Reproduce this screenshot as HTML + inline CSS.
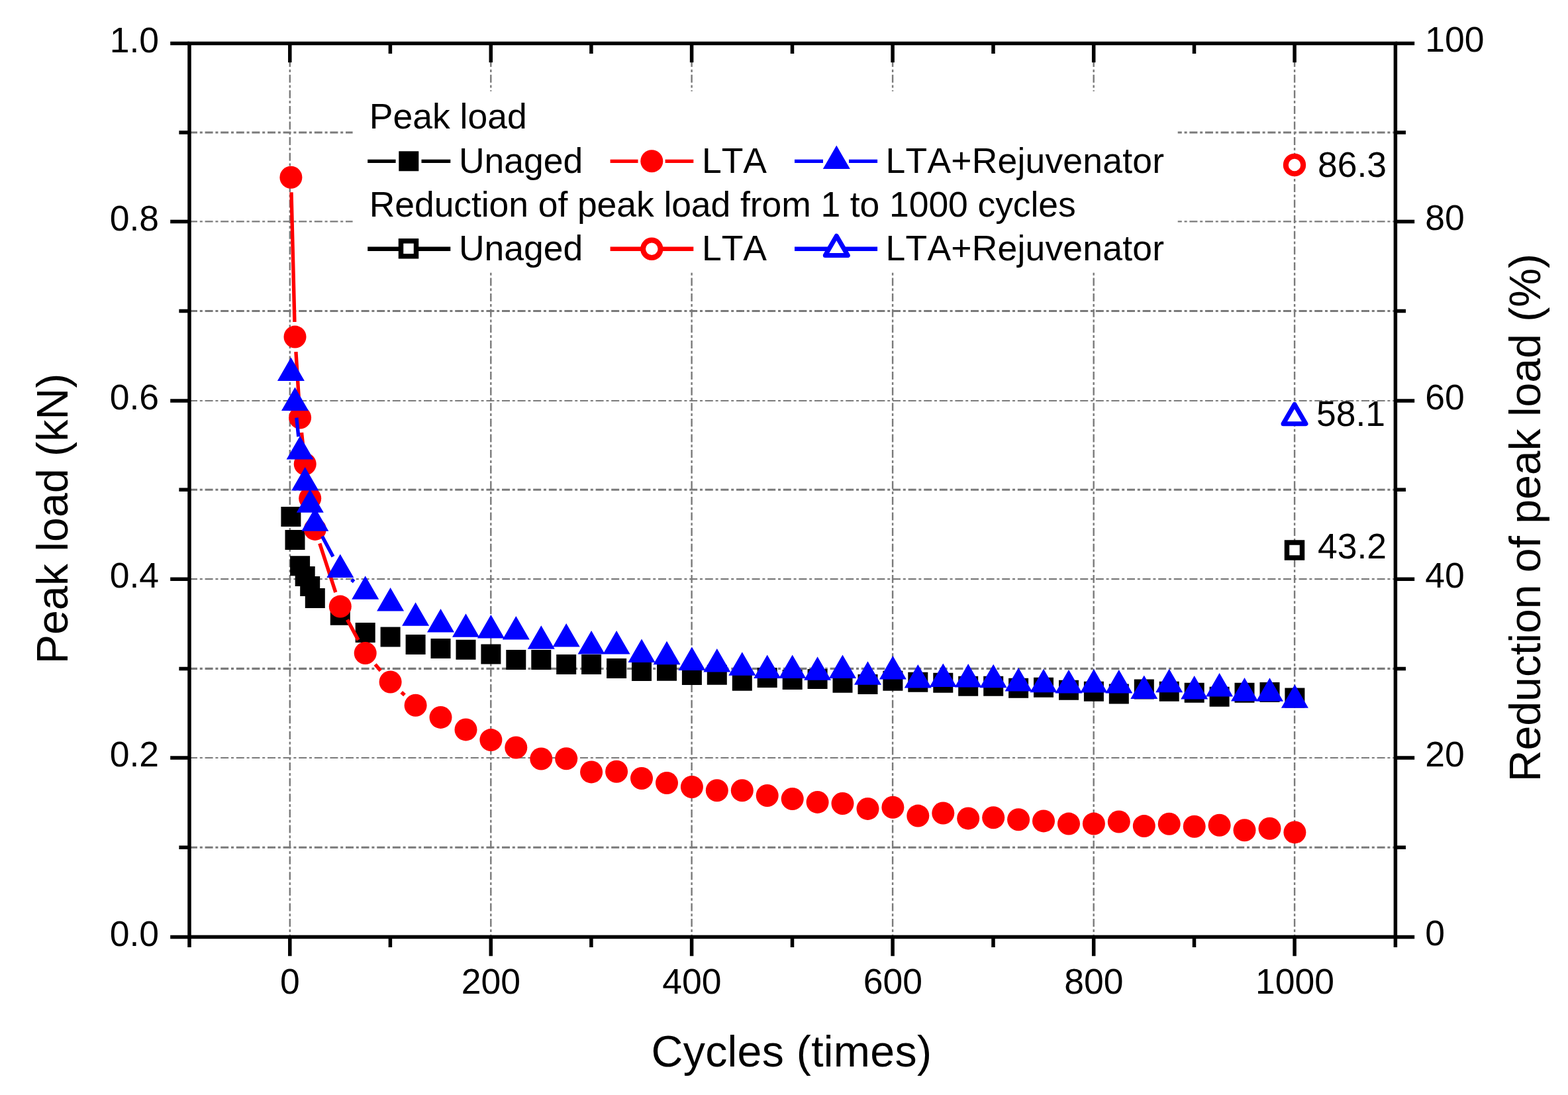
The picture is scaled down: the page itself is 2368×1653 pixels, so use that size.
<!DOCTYPE html>
<html lang="en">
<head>
<meta charset="utf-8">
<title>Peak load vs cycles</title>
<style>html,body{margin:0;padding:0;background:#fff;}body{width:2368px;height:1653px;overflow:hidden;}svg{display:block;}text{font-kerning:none;white-space:pre;}</style>
</head>
<body>
<svg width="2368" height="1653" viewBox="0 0 2368 1653" font-family='"Liberation Sans", Arial, Helvetica, sans-serif' font-size="53.5" fill="#000">
<rect x="0" y="0" width="2368" height="1653" fill="#fff"/>
<g stroke="#7a7a7a" fill="none" stroke-dasharray="12 3.8 4 3.8">
<line x1="286.0" y1="1279.2" x2="2107.4" y2="1279.2" stroke-width="3.1"/>
<line x1="286.0" y1="1144.0" x2="2107.4" y2="1144.0" stroke-width="2.2"/>
<line x1="286.0" y1="1009.4" x2="2107.4" y2="1009.4" stroke-width="3.1"/>
<line x1="286.0" y1="874.2" x2="2107.4" y2="874.2" stroke-width="2.2"/>
<line x1="286.0" y1="739.2" x2="2107.4" y2="739.2" stroke-width="3.1"/>
<line x1="286.0" y1="605.0" x2="2107.4" y2="605.0" stroke-width="2.2"/>
<line x1="286.0" y1="469.5" x2="2107.4" y2="469.5" stroke-width="3.1"/>
<line x1="286.0" y1="334.4" x2="2107.4" y2="334.4" stroke-width="2.2"/>
<line x1="286.0" y1="200.0" x2="2107.4" y2="200.0" stroke-width="3.1"/>
<line x1="437.8" y1="65.5" x2="437.8" y2="1414.4" stroke-width="2.4"/>
<line x1="741.3" y1="65.5" x2="741.3" y2="1414.4" stroke-width="2.4"/>
<line x1="1044.6" y1="65.5" x2="1044.6" y2="1414.4" stroke-width="2.4"/>
<line x1="1348.1" y1="65.5" x2="1348.1" y2="1414.4" stroke-width="2.4"/>
<line x1="1651.7" y1="65.5" x2="1651.7" y2="1414.4" stroke-width="2.4"/>
<line x1="1955.1" y1="65.5" x2="1955.1" y2="1414.4" stroke-width="2.4"/>
</g>
<g fill="#000">
<path d="M424.4 765.0h30.0v30.0h-30.0zM430.5 800.0h30.0v30.0h-30.0zM438.1 839.2h30.0v30.0h-30.0zM445.7 855.0h30.0v30.0h-30.0zM453.2 870.1h30.0v30.0h-30.0zM460.8 888.0h30.0v30.0h-30.0zM498.8 913.8h30.0v30.0h-30.0zM536.7 940.1h30.0v30.0h-30.0zM574.6 946.4h30.0v30.0h-30.0zM612.6 958.0h30.0v30.0h-30.0zM650.5 964.0h30.0v30.0h-30.0zM688.5 965.8h30.0v30.0h-30.0zM726.4 972.6h30.0v30.0h-30.0zM764.3 981.1h30.0v30.0h-30.0zM802.3 981.1h30.0v30.0h-30.0zM840.2 988.1h30.0v30.0h-30.0zM878.1 988.1h30.0v30.0h-30.0zM916.1 994.1h30.0v30.0h-30.0zM954.0 997.9h30.0v30.0h-30.0zM992.0 997.8h30.0v30.0h-30.0zM1029.9 1003.9h30.0v30.0h-30.0zM1067.8 1003.7h30.0v30.0h-30.0zM1105.8 1012.7h30.0v30.0h-30.0zM1143.7 1007.9h30.0v30.0h-30.0zM1181.7 1011.0h30.0v30.0h-30.0zM1219.6 1010.0h30.0v30.0h-30.0zM1257.5 1015.8h30.0v30.0h-30.0zM1295.5 1017.9h30.0v30.0h-30.0zM1333.4 1012.7h30.0v30.0h-30.0zM1371.3 1014.8h30.0v30.0h-30.0zM1409.3 1015.8h30.0v30.0h-30.0zM1447.2 1020.7h30.0v30.0h-30.0zM1485.2 1020.7h30.0v30.0h-30.0zM1523.1 1023.8h30.0v30.0h-30.0zM1561.0 1022.8h30.0v30.0h-30.0zM1599.0 1026.7h30.0v30.0h-30.0zM1636.9 1028.8h30.0v30.0h-30.0zM1674.8 1032.6h30.0v30.0h-30.0zM1712.8 1025.6h30.0v30.0h-30.0zM1750.7 1028.7h30.0v30.0h-30.0zM1788.7 1030.8h30.0v30.0h-30.0zM1826.6 1036.8h30.0v30.0h-30.0zM1864.5 1030.8h30.0v30.0h-30.0zM1902.5 1030.0h30.0v30.0h-30.0zM1940.4 1038.6h30.0v30.0h-30.0z"/>
</g>
<g fill="#ff0000">
<path d="M440.0 290.3L444.9 486.0M446.9 531.2L451.7 607.9M455.5 653.0L458.2 678.1M463.9 723.0L465.0 729.9M482.8 820.4L506.8 894.1M524.5 935.5L541.0 966.1M566.6 1003.0L574.8 1012.5M606.2 1044.9L611.0 1049.3" stroke="#ff0000" stroke-width="5.4" fill="none"/>
<circle cx="439.4" cy="267.7" r="17.0"/>
<circle cx="445.5" cy="508.6" r="17.0"/>
<circle cx="453.1" cy="630.5" r="17.0"/>
<circle cx="460.7" cy="700.6" r="17.0"/>
<circle cx="468.2" cy="752.3" r="17.0"/>
<circle cx="475.8" cy="798.9" r="17.0"/>
<circle cx="513.8" cy="915.6" r="17.0"/>
<circle cx="551.7" cy="986.0" r="17.0"/>
<circle cx="589.6" cy="1029.5" r="17.0"/>
<circle cx="627.6" cy="1064.7" r="17.0"/>
<circle cx="665.5" cy="1082.9" r="17.0"/>
<circle cx="703.5" cy="1101.4" r="17.0"/>
<circle cx="741.4" cy="1117.1" r="17.0"/>
<circle cx="779.3" cy="1128.5" r="17.0"/>
<circle cx="817.3" cy="1145.5" r="17.0"/>
<circle cx="855.2" cy="1145.2" r="17.0"/>
<circle cx="893.1" cy="1165.4" r="17.0"/>
<circle cx="931.1" cy="1164.8" r="17.0"/>
<circle cx="969.0" cy="1175.0" r="17.0"/>
<circle cx="1007.0" cy="1182.0" r="17.0"/>
<circle cx="1044.9" cy="1188.0" r="17.0"/>
<circle cx="1082.8" cy="1193.3" r="17.0"/>
<circle cx="1120.8" cy="1193.3" r="17.0"/>
<circle cx="1158.7" cy="1201.0" r="17.0"/>
<circle cx="1196.7" cy="1206.0" r="17.0"/>
<circle cx="1234.6" cy="1210.9" r="17.0"/>
<circle cx="1272.5" cy="1213.0" r="17.0"/>
<circle cx="1310.5" cy="1220.9" r="17.0"/>
<circle cx="1348.4" cy="1218.8" r="17.0"/>
<circle cx="1386.3" cy="1231.6" r="17.0"/>
<circle cx="1424.3" cy="1227.5" r="17.0"/>
<circle cx="1462.2" cy="1235.4" r="17.0"/>
<circle cx="1500.2" cy="1234.2" r="17.0"/>
<circle cx="1538.1" cy="1237.3" r="17.0"/>
<circle cx="1576.0" cy="1239.4" r="17.0"/>
<circle cx="1614.0" cy="1243.6" r="17.0"/>
<circle cx="1651.9" cy="1243.6" r="17.0"/>
<circle cx="1689.8" cy="1240.5" r="17.0"/>
<circle cx="1727.8" cy="1247.1" r="17.0"/>
<circle cx="1765.7" cy="1243.7" r="17.0"/>
<circle cx="1803.7" cy="1247.8" r="17.0"/>
<circle cx="1841.6" cy="1245.8" r="17.0"/>
<circle cx="1879.5" cy="1253.2" r="17.0"/>
<circle cx="1917.5" cy="1250.8" r="17.0"/>
<circle cx="1955.4" cy="1256.4" r="17.0"/>
</g>
<g fill="#0000ff">
<path d="M447.8 630.6L450.8 659.1M486.6 809.8L503.0 840.2M530.9 874.9L534.6 878.1" stroke="#0000ff" stroke-width="5.4" fill="none"/>
<path d="M439.4 539.5L459.9 575.0L418.9 575.0ZM445.5 584.4L466.0 619.9L425.0 619.9ZM453.1 657.9L473.6 693.4L432.6 693.4ZM460.7 705.0L481.2 740.5L440.2 740.5ZM468.2 738.3L488.8 773.8L447.8 773.8ZM475.8 766.2L496.3 801.7L455.3 801.7ZM513.8 836.4L534.3 871.9L493.3 871.9ZM551.7 869.2L572.2 904.7L531.2 904.7ZM589.6 887.1L610.1 922.6L569.1 922.6ZM627.6 909.3L648.1 944.8L607.1 944.8ZM665.5 919.1L686.0 954.6L645.0 954.6ZM703.5 926.3L724.0 961.8L683.0 961.8ZM741.4 928.0L761.9 963.5L720.9 963.5ZM779.3 930.1L799.8 965.6L758.8 965.6ZM817.3 944.2L837.8 979.7L796.8 979.7ZM855.2 941.0L875.7 976.5L834.7 976.5ZM893.1 952.1L913.6 987.6L872.6 987.6ZM931.1 952.1L951.6 987.6L910.6 987.6ZM969.0 964.5L989.5 1000.0L948.5 1000.0ZM1007.0 967.8L1027.5 1003.3L986.5 1003.3ZM1044.9 976.5L1065.4 1012.0L1024.4 1012.0ZM1082.8 979.0L1103.3 1014.5L1062.3 1014.5ZM1120.8 984.2L1141.3 1019.7L1100.3 1019.7ZM1158.7 988.4L1179.2 1023.9L1138.2 1023.9ZM1196.7 988.4L1217.2 1023.9L1176.2 1023.9ZM1234.6 991.2L1255.1 1026.7L1214.1 1026.7ZM1272.5 988.4L1293.0 1023.9L1252.0 1023.9ZM1310.5 998.3L1331.0 1033.8L1290.0 1033.8ZM1348.4 990.1L1368.9 1025.6L1327.9 1025.6ZM1386.3 1003.1L1406.8 1038.6L1365.8 1038.6ZM1424.3 1001.4L1444.8 1036.9L1403.8 1036.9ZM1462.2 1002.1L1482.7 1037.6L1441.7 1037.6ZM1500.2 1002.7L1520.7 1038.2L1479.7 1038.2ZM1538.1 1007.9L1558.6 1043.4L1517.6 1043.4ZM1576.0 1009.8L1596.5 1045.3L1555.5 1045.3ZM1614.0 1010.9L1634.5 1046.4L1593.5 1046.4ZM1651.9 1010.0L1672.4 1045.5L1631.4 1045.5ZM1689.8 1010.9L1710.3 1046.4L1669.3 1046.4ZM1727.8 1019.5L1748.3 1055.0L1707.3 1055.0ZM1765.7 1009.8L1786.2 1045.3L1745.2 1045.3ZM1803.7 1020.1L1824.2 1055.6L1783.2 1055.6ZM1841.6 1015.9L1862.1 1051.4L1821.1 1051.4ZM1879.5 1023.0L1900.0 1058.5L1859.0 1058.5ZM1917.5 1023.3L1938.0 1058.8L1897.0 1058.8ZM1955.4 1033.2L1975.9 1068.7L1934.9 1068.7Z"/>
</g>
<circle cx="1955.0" cy="249" r="13.2" fill="#fff" stroke="#ff0000" stroke-width="8"/>
<path d="M1955.0 610.4L1972.0 639.8L1938.0 639.8Z" fill="#fff" stroke="#0000ff" stroke-width="7" stroke-linejoin="round"/>
<rect x="1943.5" y="819.0" width="23" height="23" fill="#fff" stroke="#000" stroke-width="7.5"/>
<text x="1990" y="266.5">86.3</text>
<text x="1988" y="643.4">58.1</text>
<text x="1990" y="843">43.2</text>
<rect x="532.6" y="137.8" width="1246.1" height="272.5" fill="#fff"/>
<path d="M555.2 243.3H597.6M636.5 243.3H680.3" stroke="#000" stroke-width="5.2" fill="none"/>
<rect x="602.3" y="228.3" width="30" height="30" fill="#000"/>
<path d="M921.6 243.3H963.5M1004.6 243.3H1047.3" stroke="#ff0000" stroke-width="5.2" fill="none"/>
<circle cx="984.3" cy="243.3" r="17.0" fill="#ff0000"/>
<path d="M1200 243.3H1243M1282 243.3H1325.1" stroke="#0000ff" stroke-width="5.2" fill="none"/>
<path d="M1263.3 219.6L1283.8 255.1L1242.8 255.1Z" fill="#0000ff"/>
<path d="M555.2 375.8H680.3" stroke="#000" stroke-width="6.5" fill="none"/>
<rect x="605.5" y="363.8" width="23" height="23" fill="#fff" stroke="#000" stroke-width="7.5"/>
<path d="M921.6 375.8H1047.3" stroke="#ff0000" stroke-width="6.5" fill="none"/>
<circle cx="984.3" cy="375.8" r="13.2" fill="#fff" stroke="#ff0000" stroke-width="8"/>
<path d="M1200 375.8H1325.1" stroke="#0000ff" stroke-width="6.5" fill="none"/>
<path d="M1263.3 356.2L1280.3 385.6L1246.3 385.6Z" fill="#fff" stroke="#0000ff" stroke-width="7" stroke-linejoin="round"/>
<text x="557.8" y="194.4">Peak load</text>
<text x="557.8" y="327.1" letter-spacing="-0.086">Reduction of peak load from 1 to 1000 cycles</text>
<text x="692.9" y="260.8">Unaged</text>
<text x="1059.9" y="260.8">LTA</text>
<text x="1337.6" y="260.8" letter-spacing="0.18">LTA+Rejuvenator</text>
<text x="692.9" y="392.9">Unaged</text>
<text x="1059.9" y="392.9">LTA</text>
<text x="1337.6" y="392.9" letter-spacing="0.18">LTA+Rejuvenator</text>
<g stroke="#000" stroke-width="5.5" fill="none">
<rect x="286.0" y="65.5" width="1821.4" height="1348.9"/>
<path d="M257.2 1414.4H286.0M2107.4 1414.4H2136.2M270.4 1279.2H286.0M2107.4 1279.2H2123.0M257.2 1144.0H286.0M2107.4 1144.0H2136.2M270.4 1009.4H286.0M2107.4 1009.4H2123.0M257.2 874.2H286.0M2107.4 874.2H2136.2M270.4 739.2H286.0M2107.4 739.2H2123.0M257.2 605.0H286.0M2107.4 605.0H2136.2M270.4 469.5H286.0M2107.4 469.5H2123.0M257.2 334.4H286.0M2107.4 334.4H2136.2M270.4 200.0H286.0M2107.4 200.0H2123.0M257.2 65.5H286.0M2107.4 65.5H2136.2M286.0 1414.4V1430.0M437.8 1414.4V1443.2M437.8 65.5V94.2M589.4 1414.4V1430.0M589.4 65.5V81.0M741.3 1414.4V1443.2M741.3 65.5V94.2M892.9 1414.4V1430.0M892.9 65.5V81.0M1044.6 1414.4V1443.2M1044.6 65.5V94.2M1196.5 1414.4V1430.0M1196.5 65.5V81.0M1348.1 1414.4V1443.2M1348.1 65.5V94.2M1500.0 1414.4V1430.0M1500.0 65.5V81.0M1651.7 1414.4V1443.2M1651.7 65.5V94.2M1803.5 1414.4V1430.0M1803.5 65.5V81.0M1955.1 1414.4V1443.2M1955.1 65.5V94.2M2107.4 1414.4V1430.0"/>
</g>
<text x="240" y="1427.5" text-anchor="end">0.0</text>
<text x="2152.2" y="1427.0">0</text>
<text x="240" y="1157.1" text-anchor="end">0.2</text>
<text x="2152.2" y="1156.6">20</text>
<text x="240" y="887.3" text-anchor="end">0.4</text>
<text x="2152.2" y="886.8">40</text>
<text x="240" y="618.1" text-anchor="end">0.6</text>
<text x="2152.2" y="617.6">60</text>
<text x="240" y="347.5" text-anchor="end">0.8</text>
<text x="2152.2" y="347.0">80</text>
<text x="240" y="78.6" text-anchor="end">1.0</text>
<text x="2152.2" y="78.1">100</text>
<text x="437.9" y="1500.2" text-anchor="middle">0</text>
<text x="741.4" y="1500.2" text-anchor="middle">200</text>
<text x="1044.9" y="1500.2" text-anchor="middle">400</text>
<text x="1348.4" y="1500.2" text-anchor="middle">600</text>
<text x="1651.9" y="1500.2" text-anchor="middle">800</text>
<text x="1955.4" y="1500.2" text-anchor="middle">1000</text>
<text x="1195.4" y="1610.3" font-size="66.3" text-anchor="middle" letter-spacing="0.27">Cycles (times)</text>
<text transform="translate(101.9 783) rotate(-90)" font-size="66.3" text-anchor="middle">Peak load (kN)</text>
<text transform="translate(2326.4 781.6) rotate(-90)" font-size="66.3" text-anchor="middle" letter-spacing="-0.096">Reduction of peak load (%)</text>
</svg>
</body>
</html>
